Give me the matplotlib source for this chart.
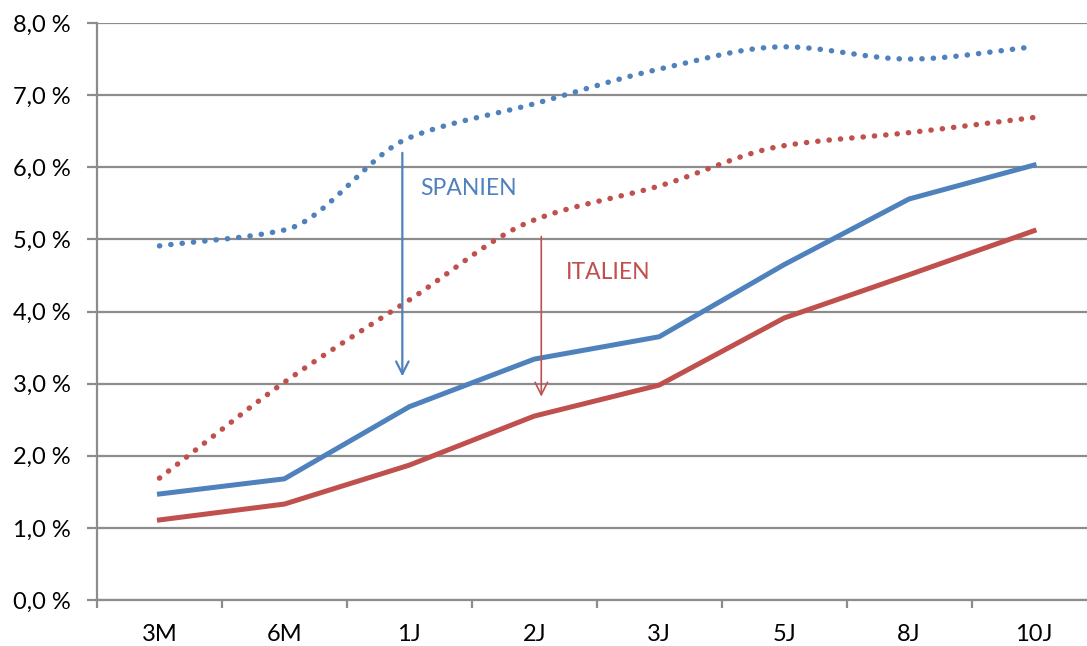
import numpy as np
import matplotlib
matplotlib.use("Agg")
import matplotlib.pyplot as plt
from matplotlib.ticker import FuncFormatter

plt.rcParams['font.family'] = ['Lato', 'DejaVu Sans']

tenors = ["3M", "6M", "1J", "2J", "3J", "5J", "8J", "10J"]
spanien_alt = [4.91, 5.13, 6.41, 6.88, 7.36, 7.67, 7.50, 7.67]
italien_alt = [1.69, 3.02, 4.16, 5.27, 5.74, 6.30, 6.48, 6.69]
spanien_neu = [1.47, 1.68, 2.68, 3.34, 3.65, 4.65, 5.56, 6.03]
italien_neu = [1.11, 1.33, 1.87, 2.55, 2.98, 3.91, 4.51, 5.12]

BLUE = "#4F81BD"
RED = "#C0504D"
GRID = "#8C8C8C"


def smooth(xs, ys, n=30):
    """Monotone cubic (Fritsch-Carlson) curve through the points, for the smoothed lines."""
    xs = np.asarray(xs, float)
    ys = np.asarray(ys, float)
    h = np.diff(xs)
    d = np.diff(ys) / h
    m = np.zeros_like(ys)
    m[0], m[-1] = d[0], d[-1]
    for i in range(1, len(ys) - 1):
        if d[i - 1] * d[i] > 0:
            w1 = 2 * h[i] + h[i - 1]
            w2 = h[i] + 2 * h[i - 1]
            m[i] = (w1 + w2) / (w1 / d[i - 1] + w2 / d[i])
    outx, outy = [], []
    t = np.linspace(0, 1, n, endpoint=False)
    for i in range(len(xs) - 1):
        h00 = 2 * t ** 3 - 3 * t ** 2 + 1
        h10 = t ** 3 - 2 * t ** 2 + t
        h01 = -2 * t ** 3 + 3 * t ** 2
        h11 = t ** 3 - t ** 2
        outx.extend(xs[i] + t * h[i])
        outy.extend(h00 * ys[i] + h10 * h[i] * m[i] + h01 * ys[i + 1] + h11 * h[i] * m[i + 1])
    outx.append(xs[-1])
    outy.append(ys[-1])
    return np.array(outx), np.array(outy)


fig = plt.figure(figsize=(10.87, 6.46), dpi=100)
W, H = 1087, 646
left, right, top, bottom = 97, 1096.5, 23, 600
ax = fig.add_axes([left / W, 1 - bottom / H, (right - left) / W, (bottom - top) / H])

x = np.arange(len(tenors))

dot = (0, (0.05, 2.05))
sx, sy = smooth(x, spanien_alt)
ax.plot(sx, sy, color=BLUE, lw=3.9, linestyle=dot, dash_capstyle='round', zorder=3)
ix, iy = smooth(x, italien_alt)
ax.plot(ix, iy, color=RED, lw=3.9, linestyle=dot, dash_capstyle='round', zorder=3)
ax.plot(x, spanien_neu, color=BLUE, lw=3.6, solid_joinstyle='round', zorder=3)
ax.plot(x, italien_neu, color=RED, lw=3.6, solid_joinstyle='round', zorder=3)

# arrows showing the drop in yields
ax.annotate("", xy=(1.944, 3.10), xytext=(1.944, 6.20),
            arrowprops=dict(arrowstyle="->, head_length=0.9, head_width=0.45",
                            color=BLUE, lw=1.6, shrinkA=0, shrinkB=0), zorder=4)
ax.annotate("", xy=(3.056, 2.82), xytext=(3.056, 5.04),
            arrowprops=dict(arrowstyle="->, head_length=0.9, head_width=0.45",
                            color=RED, lw=1.2, shrinkA=0, shrinkB=0), zorder=4)
ax.text(2.09, 5.71, "SPANIEN", color=BLUE, fontsize=16.5, va='center', ha='left')
ax.text(3.256, 4.535, "ITALIEN", color=RED, fontsize=16.5, va='center', ha='left')

ax.set_xlim(-0.5, len(tenors) - 0.5)
ax.set_ylim(0, 8)
ax.set_yticks(np.arange(0, 9, 1))
ax.yaxis.set_major_formatter(FuncFormatter(lambda v, p: f"{v:.1f} %".replace(".", ",")))
ax.yaxis.grid(True, color=GRID, lw=1.6)
ax.set_axisbelow(True)

ax.set_xticks(x)
ax.set_xticklabels(tenors)
ax.set_xticks(np.arange(-0.5, len(tenors), 1), minor=True)
ax.tick_params(axis='x', which='major', length=0, pad=17, labelsize=17)
ax.tick_params(axis='x', which='minor', length=6, width=1.6, color=GRID, direction='out')
ax.tick_params(axis='y', length=7, width=1.6, color=GRID, pad=12, labelsize=17)

for s in ('top', 'right'):
    ax.spines[s].set_visible(False)
for s in ('left', 'bottom'):
    ax.spines[s].set_color(GRID)
    ax.spines[s].set_linewidth(1.6)

fig.savefig("out.png", dpi=100)
